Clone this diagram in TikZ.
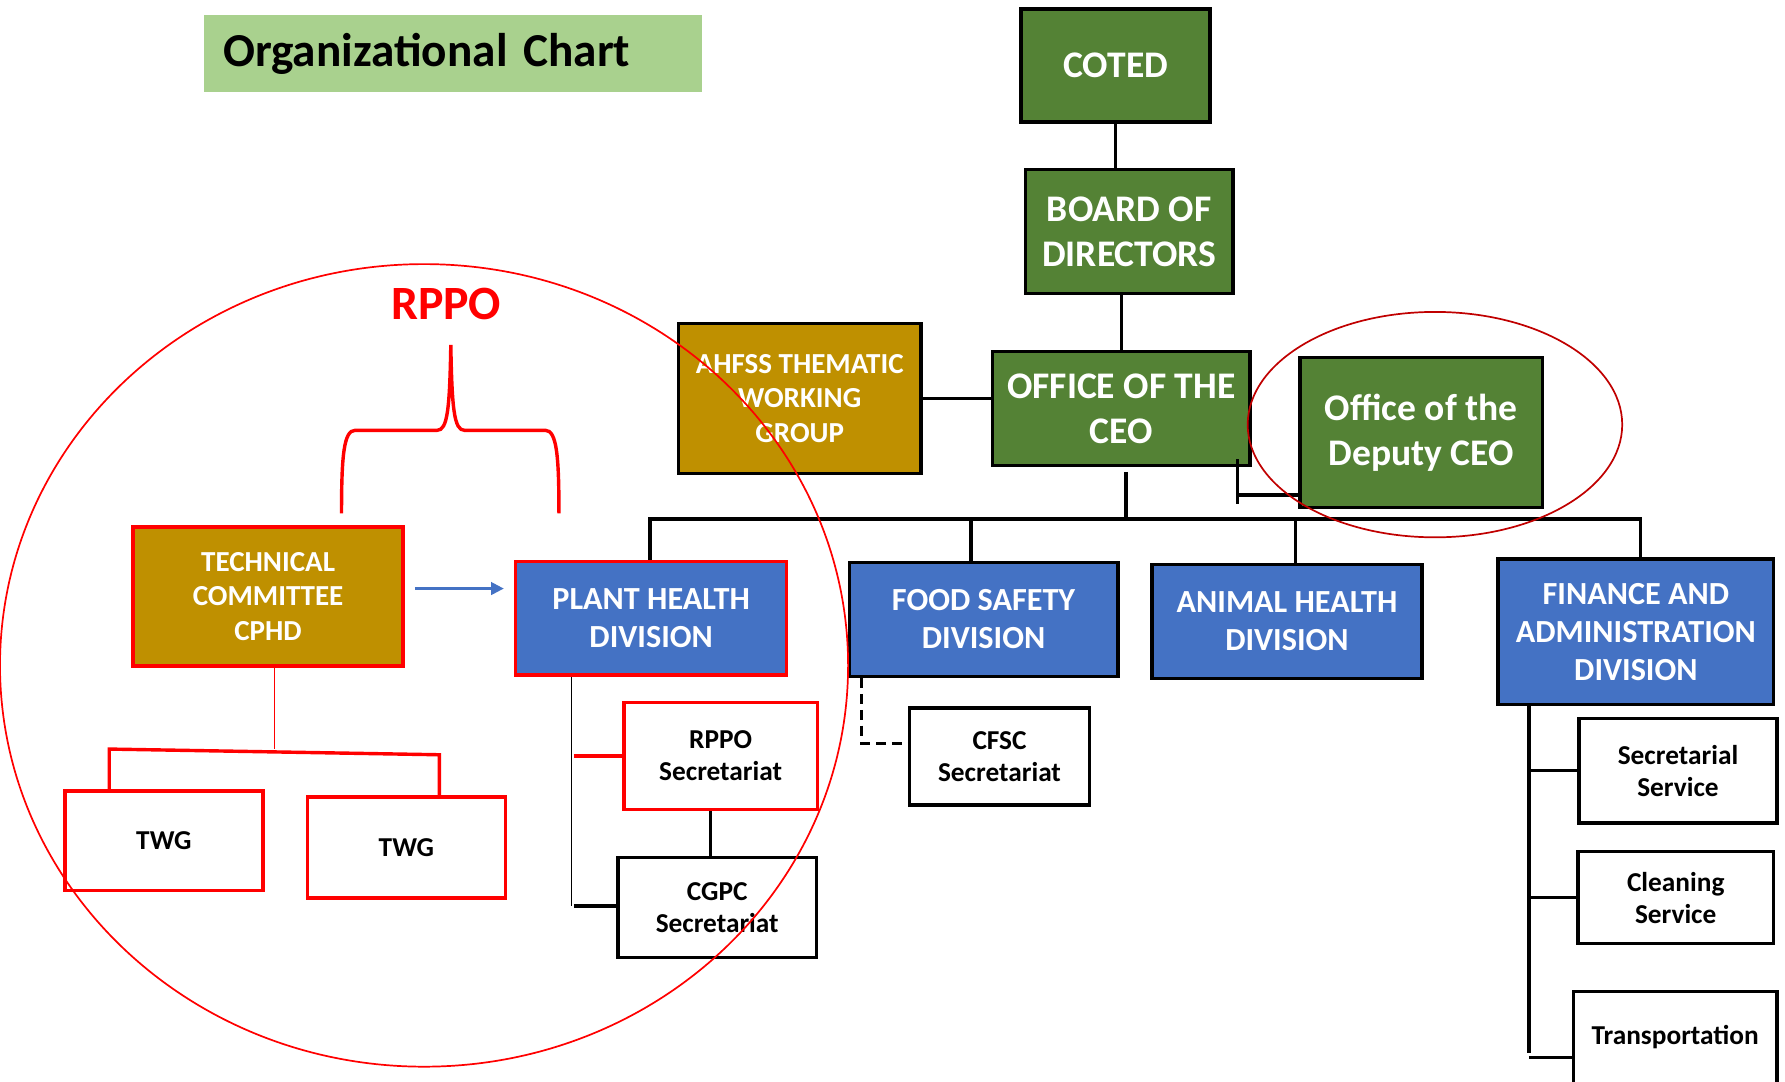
\documentclass[tikz,border=0pt]{standalone}
\usepackage{fontspec}
\setmainfont{Carlito}
\usetikzlibrary{arrows.meta,calc}
\definecolor{dgreen}{HTML}{548235}
\definecolor{dblue}{HTML}{4472C4}
\definecolor{dgold}{HTML}{BF9000}
\definecolor{tgreen}{HTML}{A9D18E}
\definecolor{dred}{HTML}{C00000}
\definecolor{bred}{HTML}{FF0000}
\begin{document}
\begin{tikzpicture}[x=1pt,y=-1pt,
  box/.style={rectangle, draw=black, line width=3pt, inner sep=0pt, align=center},
  gbox/.style={box, fill=dgreen, text=white},
  bbox/.style={box, fill=dblue, text=white},
  obox/.style={box, fill=dgold, text=white},
  wbox/.style={box, fill=white, text=black},
  big/.style={font=\fontsize{33}{39}\selectfont\bfseries},
  div/.style={font=\fontsize{28.3}{33.5}\selectfont\bfseries},
  mid/.style={font=\fontsize{25.5}{30.5}\selectfont\bfseries},
  small/.style={font=\fontsize{24}{28}\selectfont\bfseries},
  conn/.style={draw=black, line width=3pt},
  thinconn/.style={draw=black, line width=1pt},
  redconn/.style={draw=bred, line width=3pt},
]
\useasboundingbox (0,0) rectangle (1568,949.6);

% title
\node[rectangle, fill=tgreen, minimum width=438pt, minimum height=68pt, text width=404pt, inner xsep=17pt, align=left,
      font=\fontsize{41.5}{46}\selectfont\bfseries] (title) at (398,47) {Organizational Chart};

% top hierarchy
\node[gbox, big, minimum width=166pt, minimum height=99pt] (coted) at (980,57.5) {COTED};
\node[gbox, big, minimum width=182pt, minimum height=109pt] (board) at (992,203.5) {BOARD OF\\DIRECTORS};
\node[gbox, big, minimum width=226pt, minimum height=100pt] (ceo) at (985,359) {OFFICE OF THE\\CEO};
\node[gbox, big, minimum width=213pt, minimum height=132pt] (deputy) at (1248.5,380) {Office of the\\Deputy CEO};
\node[obox, mid, minimum width=213pt, minimum height=132pt] (ahfss) at (702.5,350) {AHFSS THEMATIC\\WORKING\\GROUP};

% divisions
\node[bbox, div, draw=bred, minimum width=238pt, minimum height=100pt] (phd) at (572,543) {PLANT HEALTH\\DIVISION};
\node[bbox, div, minimum width=236pt, minimum height=100pt] (fsd) at (864,544) {FOOD SAFETY\\DIVISION};
\node[bbox, div, minimum width=237pt, minimum height=100pt] (ahd) at (1130.5,546) {ANIMAL HEALTH\\DIVISION};
\node[bbox, div, minimum width=242pt, minimum height=128pt] (fad) at (1437,555) {FINANCE AND\\ADMINISTRATION\\DIVISION};

% sub units
\node[wbox, small, minimum width=158pt, minimum height=85pt] (cfsc) at (878,664.5) {CFSC\\Secretariat};
\node[wbox, small, minimum width=174pt, minimum height=92pt] (secserv) at (1474,677) {Secretarial\\Service};
\node[wbox, small, minimum width=172pt, minimum height=81pt] (clean) at (1472,788.5) {Cleaning\\Service};
\node[wbox, small, minimum width=179pt, minimum height=90pt] (transp) at (1471.5,916) {};
\node[small] (transpt) at (1471.5,911) {Transportation};

% RPPO side
\node[obox, mid, draw=bred, minimum width=237pt, minimum height=122pt] (tc) at (235.5,524) {TECHNICAL\\COMMITTEE\\CPHD};
\node[wbox, small, draw=bred, minimum width=174pt, minimum height=87pt] (twga) at (144,738.5) {TWG};
\node[wbox, small, draw=bred, minimum width=174pt, minimum height=89pt] (twgb) at (357,744.5) {TWG};
\node[wbox, small, draw=bred, minimum width=170pt, minimum height=94pt] (rpposec) at (633,664) {RPPO\\Secretariat};
\node[wbox, small, minimum width=174pt, minimum height=88pt] (cgpc) at (630,797) {CGPC\\Secretariat};
\node[text=bred, font=\fontsize{42}{46}\selectfont\bfseries] (rppo) at (392,267) {RPPO};

% connectors top
\draw[conn] (coted.south) -- (coted.south |- board.north);
\draw[conn] (ceo.north |- board.south) -- (ceo.north);
\draw[conn] (ahfss.east) -- (ahfss.east -| ceo.west);
\coordinate (dj) at (1087,435);
\draw[conn] ([yshift=7pt]dj |- ceo.south) -- ([yshift=-8pt]dj);
\draw[conn] (dj) -- (dj -| deputy.west);

% bus
\coordinate (busL) at (571,456);
\coordinate (busR) at (1441,456);
\coordinate (ceod) at (989,456);
\coordinate (b2) at (853,456);
\coordinate (b3) at (1138,456);
\draw[conn] ([xshift=-1.5pt]busL) -- ([xshift=1.5pt]busR);
\draw[conn] ([yshift=-4pt]ceod |- ceo.south) -- (ceod);
\draw[conn] (busL) -- (busL |- phd.north);
\draw[conn] (b2) -- (b2 |- fsd.north);
\draw[conn] (b3) -- (b3 |- ahd.north);
\draw[conn] (busR) -- (busR |- fad.north);

% food safety sub
\coordinate (fsdx) at (757,653);
\draw[conn, dashed, dash pattern=on 9pt off 5pt] (fsdx |- fsd.south) -- (fsdx) -- (fsdx -| cfsc.west);

% finance sub
\coordinate (fadx) at (1343,925);
\draw[conn] (fadx |- fad.south) -- (fadx);
\draw[conn] (fadx |- secserv.west) -- (secserv.west);
\draw[conn] (fadx |- clean.west) -- (clean.west);
\draw[conn] ([yshift=-4pt]fadx) -- ([yshift=-4pt]fadx -| transp.west);

% plant health sub
\coordinate (phdx) at (502,796);
\draw[thinconn] (phdx |- phd.south) -- (phdx);
\draw[redconn] ([xshift=2pt]phdx |- rpposec.west) -- (rpposec.west);
\draw[conn] ([xshift=2pt]phdx) -- (phdx -| cgpc.west);
\coordinate (rc) at (624,700);
\draw[conn] (rc |- rpposec.south) -- (rc |- cgpc.north);

% technical committee
\draw[draw=dblue, line width=2pt, -{Triangle[length=11pt,width=11pt]}] ([xshift=9pt,yshift=7pt]tc.east) -- ([xshift=-9pt,yshift=7pt]tc.east -| phd.west);
\coordinate (tcj) at (241,658);
\draw[draw=bred, line width=1pt] (tcj |- tc.south) -- (tcj);
\coordinate (bl) at (96,658);
\coordinate (br) at (386,663);
\draw[redconn] (bl |- twga.north) -- (bl) -- (br) -- (br |- twgb.north);

% brace
\draw[draw=bred, line width=3pt] (300,451) .. controls (300,400) and (302,378) .. (312,378) -- (384,378)
  .. controls (393,378) and (395,360) .. (396,303)
  .. controls (397,360) and (399,378) .. (408,378) -- (479,378)
  .. controls (489,378) and (491,400) .. (491,451);

% ellipses
\draw[draw=bred, line width=1.5pt] (372.5,584.5) ellipse [x radius=372.5pt, y radius=352.5pt];
\draw[draw=dred, line width=1.5pt] (1260.5,373) ellipse [x radius=164.5pt, y radius=99pt];
\end{tikzpicture}
\end{document}
